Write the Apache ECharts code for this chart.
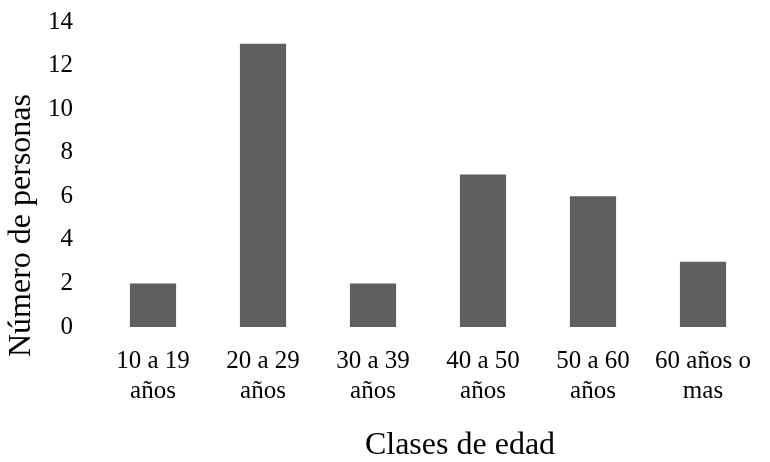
<!DOCTYPE html>
<html>
<head>
<meta charset="utf-8">
<script src="https://cdn.jsdelivr.net/npm/echarts@6/dist/echarts.min.js"></script>
<style>html,body{margin:0;padding:0;background:#fff}#c{width:770px;height:462px}</style>
</head>
<body>
<div id="c"></div>
<script>
const categories = ["10 a 19\naños", "20 a 29\naños", "30 a 39\naños", "40 a 50\naños", "50 a 60\naños", "60 años o\nmas"];
const values = [2, 13, 2, 7, 6, 3];
const xAxisTitle = "Clases de edad";
const yAxisTitle = "Número de personas";

const font = "'Liberation Serif', 'Times New Roman', serif";
const chart = echarts.init(document.getElementById('c'));
chart.setOption({
  animation: false,
  grid: {left: 98, right: 12, top: 22, bottom: 135, outerBoundsMode: 'none', containLabel: false},
  xAxis: {
    type: 'category',
    data: categories,
    axisLine: {show: false},
    axisTick: {show: false},
    axisLabel: {color: '#000', fontFamily: font, fontSize: 25, lineHeight: 30, margin: 19, interval: 0},
    name: xAxisTitle,
    nameLocation: 'middle',
    nameGap: 103,
    nameTextStyle: {color: '#000', fontFamily: font, fontSize: 32, padding: [0, 0, 0, 64]}
  },
  yAxis: {
    type: 'value',
    min: 0, max: 14, interval: 2,
    splitLine: {show: false},
    axisLine: {show: false},
    axisTick: {show: false},
    axisLabel: {color: '#000', fontFamily: font, fontSize: 25, margin: 25},
    name: yAxisTitle,
    nameLocation: 'middle',
    nameRotate: 90,
    nameGap: 51,
    nameTextStyle: {color: '#000', fontFamily: font, fontSize: 32, padding: [0, 102, 0, 0]}
  },
  series: [{
    type: 'bar',
    data: values,
    barWidth: '42%',
    itemStyle: {color: '#5f5f5f'}
  }]
});
</script>
</body>
</html>
